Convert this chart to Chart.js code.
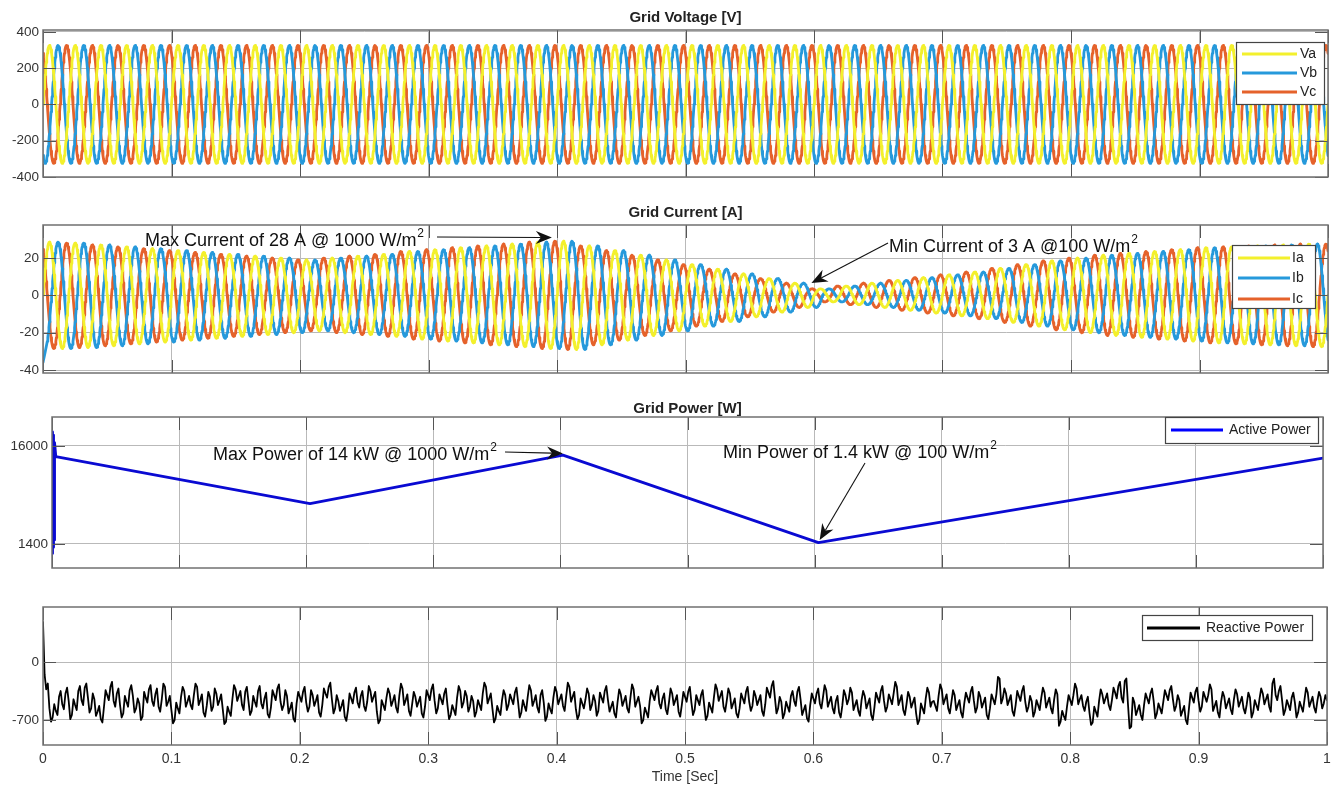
<!DOCTYPE html>
<html>
<head>
<meta charset="utf-8">
<title>Grid Voltage, Current and Power</title>
<script src="https://cdn.jsdelivr.net/npm/chart.js@4/dist/chart.umd.min.js"></script>
<style>
  html, body { margin: 0; padding: 0; background: #ffffff; }
  canvas { position: absolute; left: 0; top: 0; }
</style>
</head>
<body>
<canvas id="voltage" width="1337" height="789"></canvas>
<canvas id="current" width="1337" height="789"></canvas>
<canvas id="active" width="1337" height="789"></canvas>
<canvas id="reactive" width="1337" height="789"></canvas>
<script>
// ---- time axis ----
const timeTicks = [0, 0.1, 0.2, 0.3, 0.4, 0.5, 0.6, 0.7, 0.8, 0.9, 1];
const timeTickLabels = ['0', '0.1', '0.2', '0.3', '0.4', '0.5', '0.6', '0.7', '0.8', '0.9', '1'];

// ---- three-phase grid ----
const gridFrequencyHz = [50];
const phaseAnglesDeg = [0, -120, 120];
const voltageLabels = ['Va', 'Vb', 'Vc'];
const currentLabels = ['Ia', 'Ib', 'Ic'];
const voltagePeak = [325];
// peak phase current for each 20 ms cycle (irradiance ramps 1000 -> ~500 -> 1000 -> 100 -> 1000 W/m2)
const currentPeaksByCycle = [
  28.5, 28, 27, 26, 25, 24, 23, 22, 21, 20,
  19, 20, 21, 22, 23.5, 24.5, 25.5, 26.5, 27.5, 28.5,
  29, 26.5, 24, 21.5, 19, 16.5, 14, 11.5, 9, 6.5,
  3.5, 5, 6.5, 8, 9.5, 11, 12.5, 14.5, 16.5, 18.5,
  20, 21.5, 22.5, 23.5, 24.5, 25.5, 26, 26.5, 27, 27.5
];
// start-up transient of phase b current
const ibStartupTimes = [0, 0.0015];
const ibStartupValues = [-36, -31];

// ---- grid power ----
const activePowerTimes = [0, 0.0004, 0.0008, 0.0012, 0.0016, 0.002, 0.003, 0.203, 0.402, 0.603, 1.0];
const activePowerValues = [0, 18100, 900, 17600, 2000, 16500, 14400, 7400, 14650, 1600, 14200];

// reactive power, sampled every 2.5 ms
const reactiveTimeStep = [0.0025];
const reactivePowerValues = [
  480, -330, -560, -670, -590, -420, -510, -380, -470, -640, -520, -350, -460, -310, -430, -560, -450, -600, -690, -540,
  -400, -300, -470, -380, -520, -620, -480, -340, -410, -560, -500, -660, -430, -330, -470, -390, -540, -450, -300, -480,
  -580, -700, -560, -420, -350, -480, -520, -400, -300, -460, -610, -530, -420, -540, -380, -460, -570, -720, -600, -450,
  -330, -410, -520, -360, -470, -590, -480, -350, -500, -440, -630, -550, -400, -320, -480, -520, -410, -560, -680, -500,
  -420, -360, -490, -540, -400, -470, -610, -520, -380, -300, -450, -560, -470, -530, -660, -580, -440, -370, -490, -410,
  -530, -480, -350, -420, -600, -700, -520, -430, -380, -470, -550, -410, -320, -460, -590, -510, -420, -480, -620, -540,
  -400, -330, -470, -560, -450, -380, -520, -640, -580, -430, -350, -490, -410, -540, -470, -600, -520, -380, -300, -440,
  -560, -680, -590, -460, -400, -520, -450, -370, -480, -610, -530, -420, -340, -470, -550, -400, -490, -660, -570, -430,
  -360, -450, -530, -410, -300, -420, -570, -640, -500, -450, -380, -520, -470, -590, -430, -350, -460, -540, -620, -480,
  -390, -470, -560, -430, -330, -480, -530, -700, -610, -470, -400, -350, -500, -440, -570, -490, -380, -460, -600, -520,
  -420, -360, -490, -580, -460, -400, -530, -650, -550, -430, -330, -410, -540, -470, -380, -500, -620, -560, -440, -360,
  -480, -530, -410, -460, -590, -510, -370, -290, -430, -560, -480, -620, -540, -410, -470, -360, -450, -580, -680, -520,
  -440, -380, -500, -420, -340, -480, -560, -470, -610, -530, -400, -450, -370, -520, -590, -460, -410, -500, -640, -550,
  -430, -350, -470, -540, -450, -380, -300, -460, -580, -510, -420, -490, -620, -700, -560, -440, -370, -480, -530, -410,
  -330, -450, -560, -480, -400, -520, -610, -500, -430, -360, -470, -550, -420, -490, -640, -560, -450, -390, -200, -440,
  -380, -460, -590, -520, -410, -350, -480, -540, -470, -600, -520, -430, -370, -490, -560, -450, -390, -720, -650, -540,
  -460, -400, -320, -450, -530, -480, -610, -730, -600, -470, -390, -440, -520, -460, -370, -290, -430, -230, -510, -780,
  -490, -580, -640, -520, -440, -380, -470, -620, -560, -480, -400, -340, -450, -530, -460, -590, -700, -560, -430, -360,
  -470, -540, -420, -400, -330, -530, -610, -480, -420, -500, -570, -450, -390, -480, -560, -510, -430, -610, -520, -440,
  -380, -450, -540, -260, -400, -350, -460, -580, -520, -430, -490, -610, -540, -450, -370, -480, -550, -470, -420, -500,
  -460
];
// reactive power half-way between the samples above (switching ripple inside each 2.5 ms step)
const reactivePowerMidValues = [
  -150, -260, -720, -510, -640, -350, -570, -310, -690, -450, -580, -290, -520, -260, -610, -380, -650, -530, -730, -340,
  -460, -240, -540, -320, -670, -410, -540, -280, -610, -440, -700, -360, -490, -280, -530, -320, -600, -260, -530, -410,
  -740, -490, -620, -300, -540, -410, -570, -260, -520, -390, -660, -360, -590, -320, -520, -390, -750, -540, -650, -280,
  -470, -350, -580, -300, -640, -410, -540, -290, -560, -370, -670, -340, -460, -270, -580, -340, -620, -490, -720, -360,
  -480, -300, -600, -340, -530, -400, -660, -320, -430, -250, -620, -400, -590, -460, -710, -380, -500, -310, -550, -350,
  -590, -290, -480, -360, -740, -460, -580, -320, -530, -400, -610, -260, -520, -390, -650, -360, -540, -420, -670, -340,
  -460, -270, -620, -390, -510, -320, -690, -520, -640, -290, -550, -350, -600, -410, -660, -460, -580, -250, -500, -380,
  -730, -530, -640, -340, -580, -390, -510, -310, -670, -460, -590, -280, -530, -400, -610, -340, -710, -500, -620, -300,
  -510, -390, -590, -250, -480, -360, -690, -440, -560, -320, -580, -400, -650, -370, -490, -290, -600, -480, -670, -330,
  -530, -410, -610, -270, -540, -420, -740, -550, -670, -340, -460, -290, -560, -380, -630, -320, -520, -400, -660, -360,
  -480, -300, -640, -400, -520, -340, -700, -490, -610, -270, -470, -350, -600, -320, -560, -440, -670, -380, -500, -300,
  -590, -350, -520, -400, -650, -310, -430, -230, -620, -420, -680, -480, -600, -350, -530, -300, -640, -520, -720, -380,
  -500, -320, -560, -280, -540, -420, -620, -410, -670, -340, -510, -310, -580, -460, -650, -350, -560, -440, -700, -370,
  -490, -290, -600, -390, -510, -240, -520, -400, -640, -360, -550, -430, -750, -500, -620, -310, -540, -470, -590, -270,
  -510, -390, -620, -340, -580, -460, -670, -370, -490, -300, -610, -360, -550, -430, -690, -390, -510, -180, -500, -320,
  -520, -400, -650, -350, -470, -290, -600, -410, -660, -460, -580, -310, -550, -430, -620, -330, -770, -590, -700, -400,
  -520, -260, -510, -400, -590, -420, -760, -540, -660, -330, -500, -380, -580, -310, -440, -240, -490, -200, -800, -430,
  -640, -520, -700, -380, -500, -320, -680, -500, -620, -340, -460, -290, -590, -400, -650, -530, -750, -370, -490, -310,
  -600, -360, -480, -270, -590, -470, -670, -360, -560, -440, -630, -330, -540, -420, -620, -370, -670, -460, -580, -320,
  -510, -390, -600, -200, -460, -290, -640, -460, -580, -370, -670, -480, -600, -310, -540, -420, -610, -360, -560, -400
];

// ---- y axes ----
const voltageTicks = [-400, -200, 0, 200, 400];
const currentTicks = [-40, -20, 0, 20];
const activeTicks = [1400, 16000];
const reactiveTicks = [-700, 0];

// ---- styling ----
const FONT = '"Liberation Sans", Arial, Helvetica, sans-serif';
const PHASE_COLORS = ['#f3f02c', '#2699db', '#e5622b'];
const TEXT = '#333333';
const GRID = '#b9b9b9';
const W = 1337, H = 789;

// sample a sine wave per phase; the peak is held over each cycle of that phase
function phaseWave(peakOfCycle, angleDeg, samplesPerCycle, tStart) {
  const f = gridFrequencyHz[0];
  const n = f * samplesPerCycle;
  const pts = [];
  for (let i = 0; i <= n; i++) {
    const t = i / n;
    if (t < tStart) continue;
    const c = f * t + angleDeg / 360;
    pts.push({ x: t, y: peakOfCycle(Math.floor(c)) * Math.sin(2 * Math.PI * c) });
  }
  return pts;
}
const cycleCurrent = k => currentPeaksByCycle[Math.max(0, Math.min(currentPeaksByCycle.length - 1, k))];

// interleave the 2.5 ms samples with their mid-step values
function reactivePoints() {
  const dt = reactiveTimeStep[0];
  const pts = [];
  reactivePowerValues.forEach((v, i) => {
    pts.push({ x: i * dt, y: v });
    if (i < reactivePowerMidValues.length) pts.push({ x: (i + 0.5) * dt, y: reactivePowerMidValues[i] });
  });
  return pts;
}

function drawArrow(ctx, x0, y0, x1, y1) {
  const ang = Math.atan2(y1 - y0, x1 - x0);
  const L = 16, Wd = 6.5, N = 11;
  const bx = x1 - L * Math.cos(ang), by = y1 - L * Math.sin(ang);
  ctx.strokeStyle = '#111'; ctx.fillStyle = '#111'; ctx.lineWidth = 1.1;
  ctx.beginPath(); ctx.moveTo(x0, y0); ctx.lineTo(x1 - N * Math.cos(ang), y1 - N * Math.sin(ang)); ctx.stroke();
  ctx.beginPath();
  ctx.moveTo(x1, y1);
  ctx.lineTo(bx - Wd * Math.sin(ang), by + Wd * Math.cos(ang));
  ctx.lineTo(x1 - N * Math.cos(ang), y1 - N * Math.sin(ang));
  ctx.lineTo(bx + Wd * Math.sin(ang), by - Wd * Math.cos(ang));
  ctx.closePath(); ctx.fill();
}

// frame, inward ticks, title, boxed legend and arrow notes
const decor = {
  id: 'decor',
  afterDraw(chart, args, o) {
    const ctx = chart.ctx, a = chart.chartArea;
    const xs = chart.scales.x, ys = chart.scales.y;
    ctx.save();
    ctx.strokeStyle = '#555'; ctx.lineWidth = 1;
    ctx.beginPath();
    ys.ticks.forEach(t => {
      const py = Math.round(ys.getPixelForValue(t.value)) + 0.5;
      ctx.moveTo(a.left, py); ctx.lineTo(a.left + 13, py);
      ctx.moveTo(a.right, py); ctx.lineTo(a.right - 13, py);
    });
    xs.ticks.forEach(t => {
      const px = Math.round(xs.getPixelForValue(t.value)) + 0.5;
      ctx.moveTo(px, a.bottom); ctx.lineTo(px, a.bottom - 13);
      ctx.moveTo(px, a.top); ctx.lineTo(px, a.top + 13);
    });
    ctx.stroke();
    ctx.strokeStyle = '#707070'; ctx.lineWidth = 1.5;
    ctx.strokeRect(a.left, a.top, a.right - a.left, a.bottom - a.top);

    if (o.title) {
      ctx.fillStyle = '#222'; ctx.font = 'bold 15px ' + FONT;
      ctx.textAlign = 'center'; ctx.textBaseline = 'middle';
      ctx.fillText(o.title.text, (a.left + a.right) / 2, o.title.y);
    }
    if (o.xTitle) {
      ctx.fillStyle = TEXT; ctx.font = '14px ' + FONT;
      ctx.textAlign = 'center'; ctx.textBaseline = 'middle';
      ctx.fillText(o.xTitle.text, (a.left + a.right) / 2, o.xTitle.y);
    }
    if (o.legend) {
      const L = o.legend;
      ctx.fillStyle = '#fff'; ctx.fillRect(L.x, L.y, L.w, L.h);
      ctx.strokeStyle = '#444'; ctx.lineWidth = 1.2; ctx.strokeRect(L.x + 0.5, L.y + 0.5, L.w, L.h);
      ctx.font = L.size + 'px ' + FONT; ctx.textAlign = 'left'; ctx.textBaseline = 'middle';
      L.rows.forEach(r => {
        ctx.strokeStyle = r.color; ctx.lineWidth = 3;
        ctx.beginPath(); ctx.moveTo(L.x1, r.y); ctx.lineTo(L.x2, r.y); ctx.stroke();
        ctx.fillStyle = '#222'; ctx.fillText(r.label, L.tx, r.y);
      });
    }
    (o.notes || []).forEach(n => {
      ctx.fillStyle = '#111'; ctx.font = '18px ' + FONT;
      ctx.textAlign = 'left'; ctx.textBaseline = 'middle';
      ctx.fillText(n.text, n.x, n.y);
      const w = ctx.measureText(n.text).width;
      ctx.font = '12px ' + FONT;
      ctx.fillText('2', n.x + w + 1, n.y - 7);
      drawArrow(ctx, n.from[0], n.from[1], xs.getPixelForValue(n.tip[0]), ys.getPixelForValue(n.tip[1]));
    });
    ctx.restore();
  }
};

function panel(id, p) {
  const xHeight = p.showX ? 44 : 0;
  return new Chart(document.getElementById(id), {
    type: 'line',
    data: { datasets: p.datasets },
    plugins: [decor],
    options: {
      responsive: false, animation: false, events: [],
      layout: { padding: { left: 0, right: W - p.right, top: p.top, bottom: H - p.bottom - xHeight } },
      elements: { point: { radius: 0 }, line: { tension: 0, borderJoinStyle: 'round', borderCapStyle: 'round' } },
      plugins: {
        legend: { display: false }, tooltip: { enabled: false }, title: { display: false },
        decor: p.decor
      },
      scales: {
        x: {
          type: 'linear', min: 0, max: 1, z: 1,
          afterBuildTicks: s => { s.ticks = timeTicks.map(v => ({ value: v })); },
          afterFit: s => { s.height = xHeight; },
          grid: { color: GRID, lineWidth: 1, drawTicks: false },
          border: { display: false },
          ticks: {
            display: !!p.showX, padding: 6, color: TEXT, maxRotation: 0, autoSkip: false,
            font: { family: FONT, size: 14 },
            callback: v => timeTickLabels[timeTicks.indexOf(Math.round(v * 10) / 10)]
          }
        },
        y: {
          type: 'linear', min: p.yMin, max: p.yMax, z: 1,
          afterBuildTicks: s => { s.ticks = p.yTicks.map(v => ({ value: v })); },
          afterFit: s => { s.width = p.left; },
          grid: { color: GRID, lineWidth: 1, drawTicks: false },
          border: { display: false },
          ticks: { padding: 4, color: TEXT, font: { family: FONT, size: 13.5 }, callback: v => String(v) }
        }
      }
    }
  });
}

const lineDs = (label, data, color, width) => ({
  label, data, borderColor: color, borderWidth: width, parsing: false, normalized: true, pointRadius: 0, fill: false
});

// Grid voltage
panel('voltage', {
  left: 43, right: 1328, top: 30, bottom: 177, yMin: -400, yMax: 410, yTicks: voltageTicks,
  datasets: phaseAnglesDeg.map((ang, i) =>
    lineDs(voltageLabels[i], phaseWave(() => voltagePeak[0], ang, 48, 0), PHASE_COLORS[i], 2.8)),
  decor: {
    title: { text: 'Grid Voltage [V]', y: 18 },
    legend: { x: 1236, y: 42, w: 88, h: 62, x1: 1242, x2: 1297, tx: 1300, size: 14,
      rows: voltageLabels.map((l, i) => ({ label: l, color: PHASE_COLORS[i], y: [54, 73, 92][i] })) }
  }
});

// Grid current
const currentSets = phaseAnglesDeg.map((ang, i) => {
  let pts = phaseWave(cycleCurrent, ang, 48, i === 1 ? 0.003 : 0);
  if (i === 1) pts = ibStartupTimes.map((t, j) => ({ x: t, y: ibStartupValues[j] })).concat(pts);
  return lineDs(currentLabels[i], pts, PHASE_COLORS[i], 2.8);
});
panel('current', {
  left: 43, right: 1328, top: 225, bottom: 373, yMin: -41.6, yMax: 37.7, yTicks: currentTicks,
  datasets: currentSets,
  decor: {
    title: { text: 'Grid Current [A]', y: 213 },
    legend: { x: 1232, y: 245, w: 83, h: 63, x1: 1238, x2: 1290, tx: 1292, size: 14,
      rows: currentLabels.map((l, i) => ({ label: l, color: PHASE_COLORS[i], y: [258, 278, 299][i] })) },
    notes: [
      { text: 'Max Current of 28 A @ 1000 W/m', x: 145, y: 241, from: [437, 237], tip: [0.396, 31] },
      { text: 'Min Current of 3 A @100 W/m', x: 889, y: 247, from: [888, 243], tip: [0.598, 6.6] }
    ]
  }
});

// Active power
panel('active', {
  left: 52, right: 1323, top: 417, bottom: 568, yMin: -2176, yMax: 20320, yTicks: activeTicks,
  datasets: [lineDs('Active Power',
    activePowerTimes.map((t, i) => ({ x: t, y: activePowerValues[i] })), '#0a0ad2', 2.8)],
  decor: {
    title: { text: 'Grid Power [W]', y: 409 },
    legend: { x: 1165, y: 417, w: 153, h: 26, x1: 1171, x2: 1223, tx: 1229, size: 14,
      rows: [{ label: 'Active Power', color: '#0000ff', y: 430 }] },
    notes: [
      { text: 'Max Power of 14 kW @ 1000 W/m', x: 213, y: 455, from: [505, 452], tip: [0.402, 14900] },
      { text: 'Min Power of 1.4 kW @ 100 W/m', x: 723, y: 453, from: [865, 463], tip: [0.604, 1990] }
    ]
  }
});

// Reactive power
panel('reactive', {
  left: 43, right: 1327, top: 607, bottom: 745, yMin: -1002, yMax: 664, yTicks: reactiveTicks, showX: true,
  datasets: [lineDs('Reactive Power', reactivePoints(), '#000000', 1.8)],
  decor: {
    xTitle: { text: 'Time [Sec]', y: 777 },
    legend: { x: 1142, y: 615, w: 170, h: 25, x1: 1147, x2: 1200, tx: 1206, size: 14,
      rows: [{ label: 'Reactive Power', color: '#000000', y: 628 }] }
  }
});
</script>
</body>
</html>
